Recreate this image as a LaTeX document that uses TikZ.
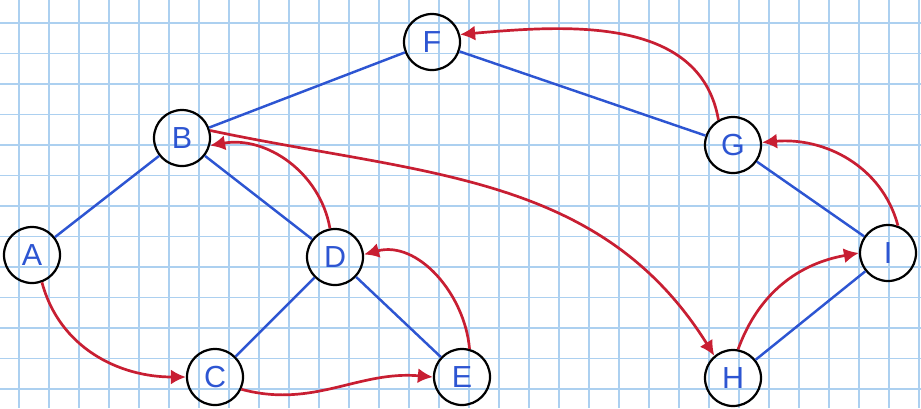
\documentclass[tikz,border=0pt]{standalone}
\usepackage{fontspec}
\setsansfont{Liberation Sans}
\usepackage{xcolor}
\usetikzlibrary{arrows.meta}

\definecolor{paperline}{RGB}{172,208,240}
\definecolor{inkblue}{RGB}{45,85,210}
\definecolor{inkred}{RGB}{200,30,50}

\begin{document}
\begin{tikzpicture}[
    x=0.03cm, y=-0.03cm,
    vertex/.style={circle, draw=black, line width=1.9pt, minimum size=1.68cm, inner sep=0pt,
                   text=inkblue, font=\sffamily\fontsize{26}{28}\selectfont},
    edge/.style={inkblue, line width=2.1pt},
    walk/.style={-{Latex[length=4.5mm,width=4.5mm]}, inkred, line width=2.3pt},
    gridline/.style={paperline, line width=1.3pt}
]
\useasboundingbox (0,0) rectangle (921,408);
\fill[white] (0,0) rectangle (921,408);
% graph paper
\foreach \gx in {0,...,30} \draw[gridline] (19+30*\gx,0) -- (19+30*\gx,408);
\foreach \gy in {0,...,13} \draw[gridline] (0,23+30.5*\gy) -- (921,23+30.5*\gy);

\node[vertex] (F) at (432,42) {F};
\node[vertex] (B) at (182,138) {B};
\node[vertex] (G) at (733,145) {G};
\node[vertex] (A) at (32,255) {A};
\node[vertex] (D) at (335,257) {D};
\node[vertex] (I) at (888,253) {I};
\node[vertex] (C) at (215,377) {C};
\node[vertex] (E) at (462,377) {E};
\node[vertex] (H) at (733,378) {H};

\draw[edge] (B) -- (F);
\draw[edge] (F) -- (G);
\draw[edge] (A) -- (B);
\draw[edge] (B) -- (D);
\draw[edge] (D) -- (C);
\draw[edge] (D) -- (E);
\draw[edge] (G) -- (I);
\draw[edge] (I) -- (H);

\draw[walk] (A.-70) to[out=-75, in=180] (C.west);
\draw[walk] (C.-25) to[out=-15, in=175] (E.west);
\draw[walk] (E.75) to[out=95, in=15] (D.5);
\draw[walk] (D.100) to[out=100, in=10] (B.-15);
\draw[walk] (B.15) to[out=-12, in=122] (H.130);
\draw[walk] (H.80) to[out=70, in=190] (I.west);
\draw[walk] (I.70) to[out=105, in=5] (G.5);
\draw[walk] (G.120) to[out=100, in=5] (F.15);
\end{tikzpicture}
\end{document}
